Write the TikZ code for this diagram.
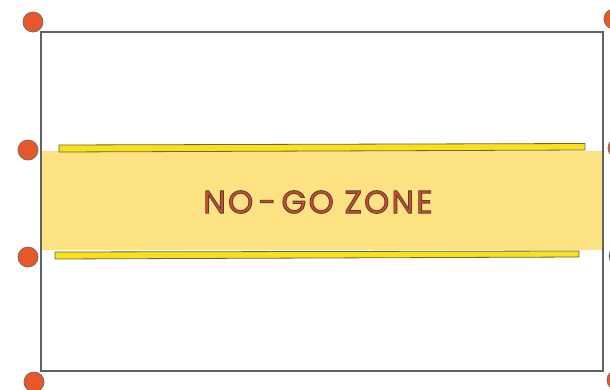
\documentclass[tikz,border=0pt]{standalone}
\usepackage{fontspec}
\newfontfamily\labelfont[LetterSpace=7]{Poppins}
\definecolor{dotorange}{HTML}{E8572A}
\definecolor{dotedge}{HTML}{7A6A60}
\definecolor{frame}{HTML}{5E6466}
\definecolor{band}{HTML}{FCE283}
\definecolor{bar}{HTML}{F7E11A}
\definecolor{baredge}{HTML}{6E6440}
\definecolor{txt}{HTML}{D9482A}
\tikzset{
  dot/.style={circle, fill=dotorange, draw=dotedge, line width=0.8pt, minimum size=20pt, inner sep=0pt},
  framebox/.style={draw=frame, line width=1.3pt},
  thinbar/.style={fill=bar, draw=baredge, line width=0.8pt},
}
\newcommand{\outlinetext}[1]{\special{pdf:literal direct 2 Tr 0.9 w 0.33 0.27 0.22 RG}#1\special{pdf:literal direct 0 Tr}}
\begin{document}
\begin{tikzpicture}[x=1pt,y=-1pt]
\useasboundingbox (0,0) rectangle (610,389);
\fill[white] (0,0) rectangle (610,389);
% yellow band
\fill[band] (41,151) rectangle (603,250);
% frame
\draw[framebox] (41,32) rectangle (603,371);
% thin bars
\draw[thinbar] (59,145) -- (585,143.5) -- (585,150) -- (59,152) -- cycle;
\draw[thinbar] (55,252) -- (579,251) -- (579,257) -- (55,259) -- cycle;
% dots
\node[dot] (d1) at (33,22) {};
\node[dot] (d2) at (28,150) {};
\node[dot] (d3) at (28,257) {};
\node[dot] (d4) at (34,382) {};
\node[dot] (d5) at (614,19) {};
\node[dot] (d6) at (618,148) {};
\node[dot] (d7) at (619,256) {};
\node[dot] (d8) at (617,380) {};
% label
\node[text=txt, font=\labelfont\fontsize{32}{32}\selectfont] (lbl) at (318,202) {\outlinetext{NO\,-\,GO ZONE}};
\end{tikzpicture}
\end{document}
